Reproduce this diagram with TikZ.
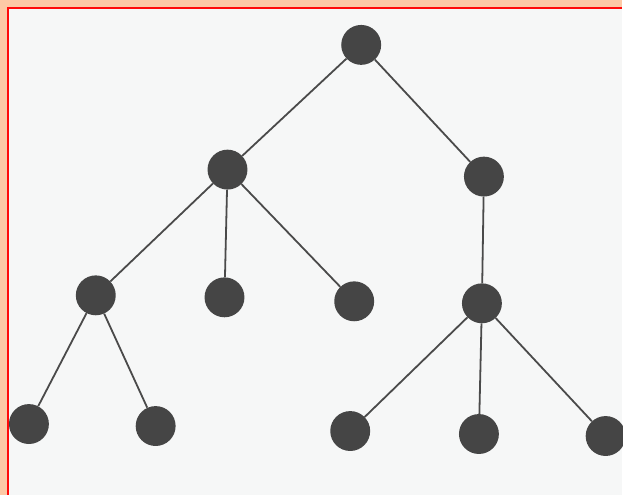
\documentclass[tikz,border=0pt]{standalone}
\usepackage{tikz}
\definecolor{trpeach}{HTML}{FDC9A6}
\definecolor{trred}{HTML}{FF0A0A}
\definecolor{trpaper}{HTML}{F6F7F7}
\definecolor{trdot}{HTML}{454545}
\definecolor{trline}{HTML}{4A4A4A}

\begin{document}
\begin{tikzpicture}[
  x=1pt, y=-1pt,
  dot/.style={circle, fill=trdot, draw=none, minimum size=40pt, inner sep=0pt},
  edge/.style={line width=1.8pt, draw=trline}
]
% frame
\fill[trpeach] (0,0) rectangle (623,496);
\fill[trpaper] (7,7) rectangle (623,496);
\draw[trred, line width=2.8pt] (8,496) -- (8,8) -- (623,8);
\useasboundingbox (0,0) rectangle (623,496);
% tree
\node[dot] (root) at (362,45) {};
\node[dot] (left) at (228,170) {};
\node[dot] (right) at (485,177) {};
\node[dot] (ll) at (96,296) {};
\node[dot] (lm) at (225,298) {};
\node[dot] (lr) at (355,302) {};
\node[dot] (rm) at (483,304) {};
\node[dot] (llA) at (29,425) {};
\node[dot] (llB) at (156,427) {};
\node[dot] (rmA) at (351,432) {};
\node[dot] (rmB) at (480,435) {};
\node[dot] (rmC) at (607,437) {};
\draw[edge] (root) -- (left);
\draw[edge] (root) -- (right);
\draw[edge] (left) -- (ll);
\draw[edge] (left) -- (lm);
\draw[edge] (left) -- (lr);
\draw[edge] (right) -- (rm);
\draw[edge] (ll) -- (llA);
\draw[edge] (ll) -- (llB);
\draw[edge] (rm) -- (rmA);
\draw[edge] (rm) -- (rmB);
\draw[edge] (rm) -- (rmC);
\end{tikzpicture}
\end{document}
